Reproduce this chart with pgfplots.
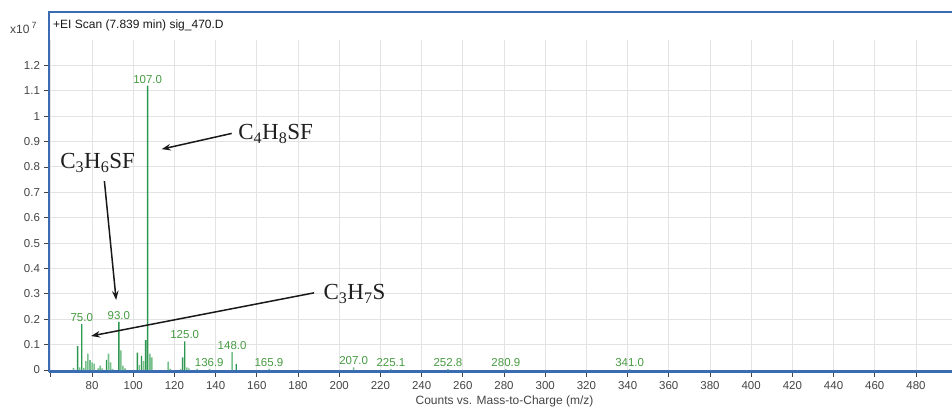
\documentclass[border=0pt]{standalone}
\usepackage{pgfplots}
\pgfplotsset{compat=1.18}
\usepackage{fontspec}
\setmainfont{Liberation Sans}
\newfontfamily\annfont{Liberation Serif}
\usetikzlibrary{arrows.meta}
\definecolor{frameblue}{RGB}{58,108,180}
\definecolor{darkpk}{RGB}{45,150,80}
\definecolor{lightpk}{RGB}{120,192,140}
\definecolor{lblgreen}{RGB}{70,155,65}
\definecolor{tickgray}{RGB}{68,68,68}
\begin{document}
\begin{tikzpicture}
\path[use as bounding box] (0,0) rectangle (952pt,408pt);
\begin{axis}[
  scale only axis,
  width=903pt, height=331.5pt,
  at={(49pt,36.5pt)}, anchor=south west,
  xmin=59.1, xmax=497.5,
  ymin=-0.0059, ymax=1.3,
  clip=false,
  axis x line*=bottom, axis y line*=left,
  axis line style={draw=frameblue, line width=2.6pt, -},
  xtick={60,80,...,480},
  xticklabels={,80,100,120,140,160,180,200,220,240,260,280,300,320,340,360,380,400,420,440,460,480},
  ytick={0,0.1,0.2,0.3,0.4,0.5,0.6,0.7,0.8,0.9,1,1.1,1.2},
  yticklabels={0,0.1,0.2,0.3,0.4,0.5,0.6,0.7,0.8,0.9,1,1.1,1.2},
  tick align=outside,
  major tick length=5pt,
  tick style={draw=tickgray, line width=0.8pt},
  grid=major,
  grid style={draw=black!11, line width=0.9pt},
  ticklabel style={font=\fontsize{11.5}{13}\selectfont, text=tickgray},
  xticklabel style={yshift=-1pt},
  yticklabel style={xshift=-0.5pt},
  /pgf/number format/assume math mode=true,
]
% light green peaks
\addplot[ybar, bar width=1.6pt, bar shift=0pt, fill=lightpk, draw=none] coordinates {
 (71,0.008) (74,0.01) (76,0.008) (77,0.035) (78,0.065) (80,0.03) (81,0.025)
 (83,0.006) (84,0.017) (85,0.006) (88,0.065) (89,0.03) (90,0.004)
 (94,0.077) (95,0.017) (96,0.006) (103,0.02) (105,0.035) (108,0.065) (109,0.05)
 (117,0.033) (118,0.004) (123,0.004) (126,0.01) (127,0.006) (131,0.004)
 (137,0.004) (148,0.07) (166,0.004) (207,0.01) (225.1,0.003) (252.8,0.003)
 (280.9,0.003) (341,0.003)
};
% dark green peaks
\addplot[ybar, bar width=1.4pt, bar shift=0pt, fill=darkpk, draw=none] coordinates {
 (73,0.094) (75,0.181) (79,0.039) (87,0.040) (93,0.19) (102,0.068)
 (104,0.056) (106,0.118) (107,1.12) (124,0.05) (125,0.113) (150,0.024)
};
% peak labels
\addplot[draw=none, mark=none, nodes near coords, point meta=explicit symbolic,
  nodes near coords style={anchor=south, inner sep=2.3pt, text=lblgreen,
  font=\fontsize{11.5}{13}\selectfont}]
  table[meta=lab] {
x y lab
75 0.181 75.0
93 0.19 93.0
107 1.12 107.0
125 0.113 125.0
136.9 0.004 136.9
148 0.07 148.0
165.9 0.004 165.9
207 0.01 207.0
225.1 0.003 225.1
252.8 0.003 252.8
280.9 0.003 280.9
341 0.003 341.0
};
% annotations
\draw[black!90, line width=1.5pt, -{Stealth[length=9pt,width=6.5pt]}] (axis cs:147.8,0.932) -- (axis cs:113.8,0.870);
\node[anchor=base west, inner sep=0pt, font=\annfont\fontsize{23}{25}\selectfont, text=black!88] at (axis cs:150.9,0.908) {C\textsubscript{4}H\textsubscript{8}SF};
\node[anchor=base west, inner sep=0pt, font=\annfont\fontsize{23}{25}\selectfont, text=black!88] at (axis cs:64.5,0.794) {C\textsubscript{3}H\textsubscript{6}SF};
\draw[black!90, line width=1.5pt, -{Stealth[length=9pt,width=6.5pt]}] (axis cs:86.0,0.744) -- (axis cs:91.7,0.276);
\node[anchor=base west, inner sep=0pt, font=\annfont\fontsize{23}{25}\selectfont, text=black!88] at (axis cs:192.3,0.278) {C\textsubscript{3}H\textsubscript{7}S};
\draw[black!90, line width=1.5pt, -{Stealth[length=9pt,width=6.5pt]}] (axis cs:187.8,0.304) -- (axis cs:79.5,0.134);
% x label
\node[font=\fontsize{12}{14}\selectfont, text=tickgray] at (rel axis cs:0.5,0) [yshift=-30pt, xshift=4pt] {Counts vs. Mass-to-Charge (m/z)};
\end{axis}
% title frame
\draw[frameblue, line width=1.3pt] (49pt,368pt) -- (49pt,396pt);
\draw[frameblue, line width=2.6pt] (47.7pt,396pt) -- (952pt,396pt);
\node[anchor=west, inner sep=0pt, font=\fontsize{12}{14}\selectfont, text=black!90] at (53pt,383pt) {+EI Scan (7.839 min) sig\_470.D};
\node[anchor=west, inner sep=0pt, font=\fontsize{12}{14}\selectfont, text=tickgray] at (10pt,380pt) {x10\,\raisebox{4.5pt}{\fontsize{9}{10}\selectfont 7}};
\end{tikzpicture}
\end{document}
